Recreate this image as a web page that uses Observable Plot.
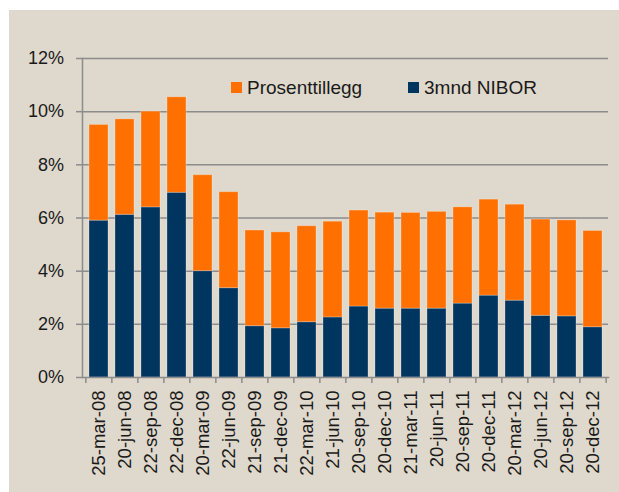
<!DOCTYPE html>
<html>
<head>
<meta charset="utf-8">
<script src="https://cdn.jsdelivr.net/npm/d3@7"></script>
<script src="https://cdn.jsdelivr.net/npm/@observablehq/plot@0.6"></script>
<style>
  html, body { margin: 0; padding: 0; background: #ffffff; }
  #wrap { position: relative; width: 619px; height: 492px; overflow: hidden; font-family: "Liberation Sans", Arial, Helvetica, sans-serif; }
  #chart { position: absolute; left: 9px; top: 10px; }
  #chart svg { background: #dfd8cc; display: block; }
  .leg { position: absolute; font-size: 19px; line-height: 19px; color: #1a1a1a; white-space: nowrap; }
  .sw { position: absolute; width: 11px; height: 11px; }
</style>
</head>
<body>
<div id="wrap">
  <div id="chart"></div>
  <div class="sw" style="left:231px;top:82px;background:#ff7000"></div>
  <div class="leg" style="left:247px;top:78px">Prosenttillegg</div>
  <div class="sw" style="left:408px;top:82px;background:#003560"></div>
  <div class="leg" style="left:424px;top:78px">3mnd NIBOR</div>
</div>
<script>
const dates = ["25-mar-08","20-jun-08","22-sep-08","22-dec-08","20-mar-09","22-jun-09","21-sep-09","21-dec-09","22-mar-10","21-jun-10","20-sep-10","20-dec-10","21-mar-11","20-jun-11","20-sep-11","20-dec-11","20-mar-12","20-jun-12","20-sep-12","20-dec-12"];
const nibor = [5.90,6.12,6.40,6.95,4.00,3.36,1.93,1.85,2.08,2.26,2.67,2.59,2.59,2.59,2.78,3.08,2.89,2.32,2.30,1.89];
const prosenttillegg = [3.60,3.59,3.60,3.59,3.61,3.61,3.60,3.61,3.61,3.60,3.61,3.61,3.60,3.64,3.62,3.61,3.61,3.62,3.61,3.62];
const seriesNames = ["3mnd NIBOR","Prosenttillegg"];
const seriesColors = ["#003560","#ff7000"];
const yTicks = [0,2,4,6,8,10,12];

const rows = [];
dates.forEach((d,i) => rows.push({date: d, series: seriesNames[0], value: nibor[i]}));
dates.forEach((d,i) => rows.push({date: d, series: seriesNames[1], value: prosenttillegg[i]}));

const W = 610, H = 482, mL = 73, mR = 11, mT = 48, mB = 115;
const step = (W - mL - mR) / dates.length;
const font = "'Liberation Sans', Arial, Helvetica, sans-serif";
const grid = "#8c8c8c";

const chart = Plot.plot({
  width: W, height: H,
  marginLeft: mL, marginRight: mR, marginTop: mT, marginBottom: mB,
  style: {fontFamily: font, background: "#dfd8cc", color: "#1a1a1a", overflow: "visible"},
  x: {domain: dates, paddingInner: 0.276, paddingOuter: 0.138, axis: null},
  y: {domain: [0, 12], axis: null},
  color: {domain: seriesNames, range: seriesColors},
  marks: [
    Plot.ruleY(yTicks.filter(t => t > 0), {stroke: grid, strokeWidth: 1.5}),
    Plot.barY(rows, {x: "date", y: "value", fill: "series", stroke: "#ffffff", strokeOpacity: 0.25, strokeWidth: 1}),
    Plot.frame({anchor: "left", stroke: grid, strokeWidth: 1.5}),
    Plot.frame({anchor: "bottom", stroke: grid, strokeWidth: 1.5}),
    Plot.axisY({ticks: yTicks, tickFormat: d => d + "%", label: null, tickSize: 6, tickPadding: 12.5, fontSize: 18, stroke: grid, strokeWidth: 1.5, fill: "#1a1a1a"}),
    Plot.ruleX(dates, {x: d => d, y1: 0, y2: 0, dx: -step / 2, insetBottom: -6, stroke: grid, strokeWidth: 1.5}),
    Plot.ruleX([dates[dates.length - 1]], {x: d => d, y1: 0, y2: 0, dx: step / 2, insetBottom: -6, stroke: grid, strokeWidth: 1.5}),
    Plot.text(dates, {x: d => d, frameAnchor: "bottom", rotate: -90, textAnchor: "end", lineAnchor: "middle", dy: 13, fontSize: 18.5, fill: "#1a1a1a"})
  ]
});
document.getElementById("chart").appendChild(chart);
</script>
</body>
</html>
